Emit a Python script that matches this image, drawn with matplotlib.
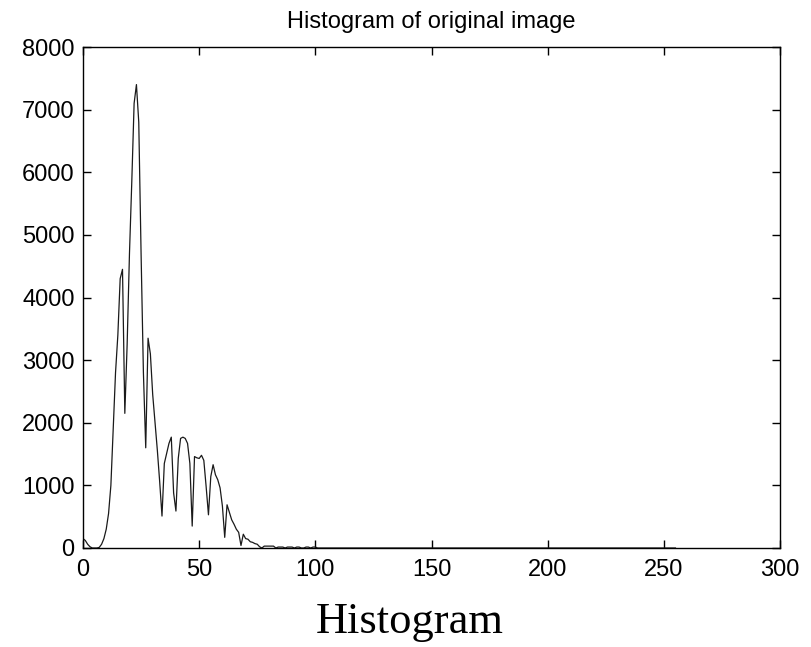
import numpy as np
import matplotlib
matplotlib.use("Agg")
import matplotlib.pyplot as plt

# Histogram counts for gray levels 0..255
counts_head = [
    150, 120, 60, 20, 0, 0, 0, 10, 60, 150,            # 0-9
    300, 550, 1000, 1900, 2800, 3400, 4300, 4450, 2150, 3250,   # 10-19
    4700, 5850, 7100, 7400, 6800, 4700, 2800, 1600, 3350, 3100,  # 20-29
    2450, 2000, 1560, 1060, 510, 1350, 1510, 1670, 1770, 880,    # 30-39
    590, 1430, 1750, 1770, 1750, 1670, 1350, 350, 1460, 1440,    # 40-49
    1430, 1480, 1400, 980, 530, 1140, 1330, 1170, 1090, 960,     # 50-59
    670, 170, 690, 570, 450, 380, 300, 250, 40, 220,             # 60-69
    150, 140, 100, 90, 70, 60, 20, 0, 30, 30,                    # 70-79
    30, 30, 30, 0, 15, 15, 15, 0, 15, 15,                        # 80-89
    15, 0, 15, 15, 0, 0, 15, 15, 0, 15,                          # 90-99
    15,                                                          # 100
]
gray_levels = list(range(256))
counts = counts_head + [0] * (256 - len(counts_head))

x_ticks = [0, 50, 100, 150, 200, 250, 300]
y_ticks = [0, 1000, 2000, 3000, 4000, 5000, 6000, 7000, 8000]
title_text = "Histogram of original image"
caption_text = "Histogram"

plt.rcParams['font.family'] = ['Liberation Sans', 'DejaVu Sans']

fig = plt.figure(figsize=(8.12, 6.47), dpi=100)
ax = fig.add_axes([83/812, 1 - 548/647, (780-83)/812, (548-47)/647])

ax.plot(gray_levels, counts, color='#1a1a1a', linewidth=0.9)

ax.set_xlim(0, 300)
ax.set_ylim(0, 8000)
ax.set_xticks(x_ticks)
ax.set_yticks(y_ticks)
ax.set_xticklabels([str(v) for v in x_ticks])
ax.set_yticklabels([str(v) for v in y_ticks])

ax.tick_params(axis='both', direction='in', length=6, width=1.0,
               top=True, right=True, labelsize=17, colors='black')
ax.tick_params(axis='x', pad=8)
ax.tick_params(axis='y', pad=6)
for s in ax.spines.values():
    s.set_linewidth(1.0)
    s.set_color('black')

ax.set_title(title_text, fontsize=17, pad=14)

fig.text(410/812, 1 - 633/647, caption_text, family=['Liberation Serif', 'DejaVu Serif'],
         fontsize=32, ha='center', va='baseline')

fig.savefig("out.png", dpi=100)
